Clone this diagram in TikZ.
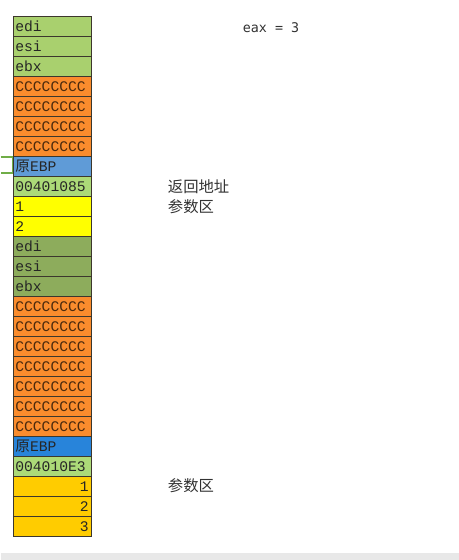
\documentclass[tikz,border=0pt]{standalone}
\usepackage{fontspec}
\setmonofont{Liberation Mono}
\newfontfamily\cjk{Noto Sans CJK SC}
\newfontfamily\eaxfont{DejaVu Sans Mono}
\usetikzlibrary{positioning}
\definecolor{cGrnA} {RGB}{169, 208, 110}
\definecolor{cGrnB} {RGB}{172, 218, 120}
\definecolor{cGrnC} {RGB}{141, 172,  92}
\definecolor{cOrg}  {RGB}{250, 140,  45}
\definecolor{cBluA} {RGB}{ 95, 155, 215}
\definecolor{cBluB} {RGB}{ 40, 132, 218}
\definecolor{cYelA} {RGB}{255, 255,   0}
\definecolor{cYelB} {RGB}{255, 204,   0}
\definecolor{cEdge} {RGB}{ 60,  55,  45}
\definecolor{cNote} {RGB}{ 50,  50,  50}
\definecolor{cMark} {RGB}{112, 173,  71}
\definecolor{cBar}  {RGB}{232, 232, 232}
\tikzset{
  cell/.style = {draw=cEdge, line width=0.5pt, anchor=north west,
                 minimum width=58.5pt, minimum height=15pt,
                 text width=55pt, inner sep=1.5pt, align=left,
                 font=\ttfamily\fontsize{11}{12}\selectfont},
  gA/.style   = {cell, fill=cGrnA, text=black!85},
  gB/.style   = {cell, fill=cGrnB, text=black!85},
  gC/.style   = {cell, fill=cGrnC, text=black!85},
  oC/.style   = {cell, fill=cOrg,  text=black!70!cOrg},
  bA/.style   = {cell, fill=cBluA, text=black!85},
  bB/.style   = {cell, fill=cBluB, text=black!85},
  yA/.style   = {cell, fill=cYelA, text=black!85},
  yB/.style   = {cell, fill=cYelB, text=black!85, align=right},
  note/.style = {anchor=west, text=cNote, inner sep=0pt,
                 font=\cjk\fontsize{11.5}{14}\selectfont},
}

\begin{document}
\begin{tikzpicture}[x=0.75pt, y=-0.75pt]

%% --- canvas -------------------------------------------------------
\fill[white] (0,0) rectangle (458,560);
\fill[cBar] (0,553) rectangle (458,560);

%% --- stack cells ----------------------------------------------------
\foreach \s/\t [count=\i] in {gA/edi, gA/esi, gA/ebx,
    oC/CCCCCCCC, oC/CCCCCCCC, oC/CCCCCCCC, oC/CCCCCCCC,
    bA/{{\cjk 原}EBP}, gB/00401085, yA/1, yA/2,
    gC/edi, gC/esi, gC/ebx,
    oC/CCCCCCCC, oC/CCCCCCCC, oC/CCCCCCCC, oC/CCCCCCCC,
    oC/CCCCCCCC, oC/CCCCCCCC, oC/CCCCCCCC,
    bB/{{\cjk 原}EBP}, gB/004010E3, yB/1, yB/2, yB/3}
  \node[\s] (c\i) at (12, 16+20*\i-20) {\t};

%% --- bracket mark at old EBP ----------------------------------------
\draw[cMark, line width=1pt] (c8.north west) ++(-12,1) -- ++(12,0)
  -- ++(0,16) -- ++(-12,0);

%% --- notes ----------------------------------------------------------
\node[anchor=west, text=cNote, inner sep=0pt,
      font=\eaxfont\fontsize{10}{12}\selectfont] (eax) at (242,28) {eax = 3};

\node[note] (ret)  at (167,187) {返回地址};
\node[note] (argA) at (167,207) {参数区};
\node[note] (argB) at (167,486) {参数区};

\end{tikzpicture}
\end{document}
